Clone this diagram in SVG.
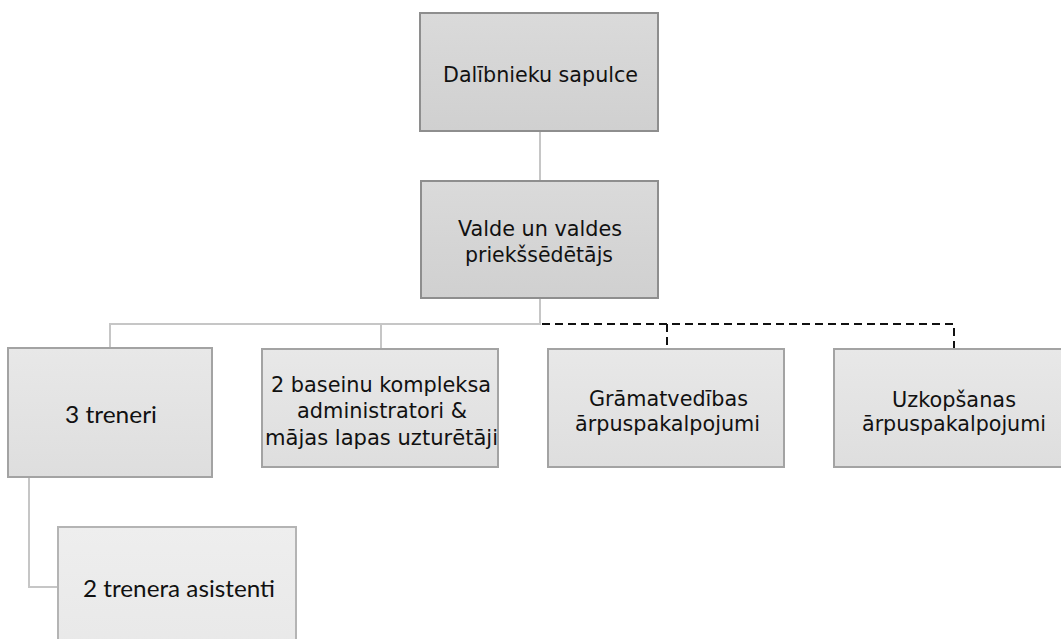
<svg xmlns="http://www.w3.org/2000/svg" width="1061" height="639" viewBox="0 0 1061 639">
<style>
.t1{font-family:"DejaVu Sans",Verdana,sans-serif;font-size:22px;fill:#111;text-anchor:middle}
.t2{font-family:Lato,Carlito,"Liberation Sans",sans-serif;font-size:22.5px;fill:#111;text-anchor:middle}
.top{fill:url(#gTop);stroke:#8e8e8e;stroke-width:2}
.mid{fill:url(#gMid);stroke:#a3a3a3;stroke-width:2}
.low{fill:url(#gLow);stroke:#b4b4b4;stroke-width:2}
.solid{fill:none;stroke:#c6c6c6;stroke-width:2}
.dash{fill:none;stroke:#111;stroke-width:2;stroke-dasharray:8 5}
</style>
<defs>
<linearGradient id="gTop" x1="0" y1="0" x2="0" y2="1"><stop offset="0" stop-color="#dadada"/><stop offset="1" stop-color="#d0d0d0"/></linearGradient>
<linearGradient id="gMid" x1="0" y1="0" x2="0" y2="1"><stop offset="0" stop-color="#e8e8e8"/><stop offset="1" stop-color="#dedede"/></linearGradient>
<linearGradient id="gLow" x1="0" y1="0" x2="0" y2="1"><stop offset="0" stop-color="#eeeeee"/><stop offset="1" stop-color="#e8e8e8"/></linearGradient>
</defs>
<rect width="1061" height="639" fill="#fff"/>
<g id="connectors">
<path class="solid" d="M540 131V181"/>
<path class="solid" d="M540 298V324H110V348"/>
<path class="solid" d="M381 324V348"/>
<path class="dash" d="M542 324H954V348"/>
<path class="dash" d="M667 324V348"/>
<path class="solid" d="M29 477V587H58"/>
</g>
<g id="n-sapulce">
<rect class="top" x="420" y="13" width="238" height="118"/>
<text class="t1" x="540.5" y="82" textLength="195" lengthAdjust="spacingAndGlyphs">Dalībnieku sapulce</text>
</g>
<g id="n-valde">
<rect class="top" x="421" y="181" width="237" height="117"/>
<text class="t1" x="540" y="236" textLength="164" lengthAdjust="spacingAndGlyphs">Valde un valdes</text>
<text class="t1" x="539" y="262" textLength="148" lengthAdjust="spacingAndGlyphs">priekšsēdētājs</text>
</g>
<g id="n-treneri">
<rect class="mid" x="8" y="348" width="204" height="129"/>
<text class="t2" x="111" y="423" textLength="92" lengthAdjust="spacingAndGlyphs">3 treneri</text>
</g>
<g id="n-admin">
<rect class="mid" x="262" y="349" width="236" height="118"/>
<text class="t1" x="381" y="392" textLength="220" lengthAdjust="spacingAndGlyphs">2 baseinu kompleksa</text>
<text class="t1" x="382" y="418" textLength="170" lengthAdjust="spacingAndGlyphs">administratori &amp;</text>
<text class="t1" x="381.5" y="445" textLength="233" lengthAdjust="spacingAndGlyphs">mājas lapas uzturētāji</text>
</g>
<g id="n-gramatvediba">
<rect class="mid" x="548" y="349" width="236" height="118"/>
<text class="t1" x="668.5" y="406" textLength="159" lengthAdjust="spacingAndGlyphs">Grāmatvedības</text>
<text class="t1" x="667.5" y="431" textLength="185" lengthAdjust="spacingAndGlyphs">ārpuspakalpojumi</text>
</g>
<g id="n-uzkopsana">
<rect class="mid" x="834" y="349" width="240" height="118"/>
<text class="t1" x="954" y="407" textLength="124" lengthAdjust="spacingAndGlyphs">Uzkopšanas</text>
<text class="t1" x="954" y="431" textLength="184" lengthAdjust="spacingAndGlyphs">ārpuspakalpojumi</text>
</g>
<g id="n-asistenti">
<rect class="low" x="58" y="527" width="238" height="130"/>
<text class="t2" x="179" y="597" textLength="192" lengthAdjust="spacingAndGlyphs">2 trenera asistenti</text>
</g>
</svg>
